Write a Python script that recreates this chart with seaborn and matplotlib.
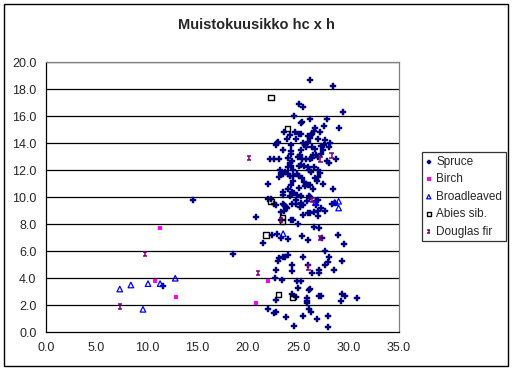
import numpy as np
import pandas as pd
import matplotlib
matplotlib.use('Agg')
import matplotlib.pyplot as plt
from matplotlib.path import Path
from matplotlib.patches import Rectangle
import seaborn as sns

sns.set_style('white')
plt.rcParams['font.family'] = ['Liberation Sans', 'DejaVu Sans']

# --- data ---
spruce_x = [26.2, 28.4, 29.4, 25.1, 25.5, 24.6, 26.2, 27.8, 25.3, 25.4, 27.6, 29.0, 26.7, 26.6, 26.4, 23.6,
            24.7, 25.1, 25.3, 26.0, 26.2, 26.3, 27.2, 24.2, 23.9, 24.8, 26.0, 27.0, 27.7, 28.1, 22.9, 23.0,
            22.8, 24.3, 25.5, 25.7, 25.8, 26.4, 26.7, 27.3, 27.6, 28.0, 24.3, 24.3, 23.5, 25.3, 27.5, 25.0,
            25.2, 26.5, 26.8, 27.0, 27.3, 24.0, 22.2, 22.6, 23.1, 24.4, 24.2, 25.4, 25.8, 26.2, 26.4, 27.8,
            28.7, 28.0, 24.0, 24.3, 24.5, 25.1, 25.3, 25.6, 26.0, 26.1, 26.3, 26.6, 27.0, 23.2, 23.3, 23.5,
            23.7, 24.0, 24.2, 24.5, 24.9, 25.1, 26.7, 27.0, 27.2, 23.1, 25.4, 24.5, 24.3, 22.0, 25.6, 25.8,
            26.0, 26.2, 25.7, 27.5, 26.9, 25.1, 24.0, 26.5, 28.4, 23.5, 23.5, 24.4, 24.6, 24.9, 25.3, 26.2,
            26.1, 24.2, 24.8, 22.3, 22.0, 25.9, 26.8, 27.0, 23.5, 23.6, 23.9, 23.8, 24.4, 24.8, 25.3, 25.5,
            25.2, 22.6, 22.8, 26.8, 27.3, 27.0, 28.3, 28.6, 23.3, 23.6, 25.5, 26.0, 26.2, 26.6, 27.0, 27.7,
            23.3, 24.3, 24.5, 25.0, 20.8, 22.4, 22.9, 23.3, 24.0, 25.4, 26.0, 26.6, 27.1, 27.4, 21.5, 28.9,
            29.5, 27.7, 23.1, 23.0, 23.5, 23.7, 24.0, 25.5, 28.0, 29.3, 27.7, 27.9, 26.0, 24.4, 22.8, 24.4,
            27.1, 27.1, 26.4, 28.5, 22.7, 23.4, 24.9, 25.3, 25.0, 26.1, 26.2, 24.4, 24.8, 25.9, 25.9, 25.9,
            27.1, 27.3, 29.3, 29.6, 29.2, 30.8, 22.8, 22.0, 22.6, 22.8, 23.8, 25.5, 26.1, 26.3, 26.9, 27.9,
            24.6, 27.9, 14.6, 18.5, 11.6]
spruce_y = [18.7, 18.2, 16.3, 16.9, 16.7, 16.0, 15.8, 15.8, 15.5, 15.6, 15.3, 15.1, 15.1, 14.9, 14.7, 14.8,
            14.8, 14.7, 14.7, 14.5, 14.4, 14.6, 14.8, 14.6, 14.3, 14.3, 14.1, 14.3, 14.2, 14.0, 14.0, 14.1,
            13.9, 13.9, 14.0, 13.9, 13.7, 13.7, 13.6, 13.8, 13.9, 13.7, 13.4, 13.2, 13.5, 13.5, 13.5, 13.0,
            13.1, 13.1, 13.1, 13.0, 13.2, 12.9, 12.8, 12.8, 12.8, 12.7, 12.5, 12.8, 12.8, 12.8, 12.9, 12.7,
            12.8, 12.5, 12.2, 12.3, 12.0, 12.3, 12.4, 12.3, 12.2, 12.0, 11.9, 12.2, 12.0, 12.0, 11.8, 11.7,
            11.9, 11.7, 11.6, 11.6, 11.7, 11.6, 11.4, 11.5, 11.8, 11.5, 11.4, 11.2, 10.9, 11.0, 11.1, 11.0,
            10.9, 10.9, 10.8, 11.0, 11.2, 10.7, 10.6, 10.6, 10.6, 10.4, 10.2, 10.4, 10.3, 10.2, 10.1, 10.0,
            10.1, 10.1, 9.8, 9.9, 9.9, 9.7, 9.7, 9.8, 9.5, 9.4, 9.2, 9.3, 9.5, 9.5, 9.6, 9.4,
            9.3, 9.5, 9.4, 9.4, 9.2, 9.0, 9.5, 9.6, 8.9, 9.0, 8.7, 8.8, 8.8, 8.9, 8.6, 9.0,
            8.3, 8.3, 8.3, 8.0, 8.5, 7.2, 7.3, 7.0, 6.9, 7.1, 6.8, 7.8, 7.7, 7.0, 6.6, 7.2,
            6.5, 6.0, 5.5, 5.3, 5.6, 5.6, 5.7, 5.6, 5.6, 5.3, 5.0, 5.2, 5.0, 5.0, 4.6, 4.5,
            4.6, 4.4, 4.4, 4.6, 4.0, 3.9, 3.8, 3.8, 3.3, 3.1, 3.2, 2.8, 2.6, 2.5, 2.3, 2.2,
            2.7, 2.7, 2.8, 2.7, 2.3, 2.5, 2.4, 1.7, 1.4, 1.5, 1.1, 1.2, 1.7, 1.5, 1.0, 1.2,
            0.5, 0.4, 9.8, 5.8, 3.4]

birch_x = [11.3, 10.8, 12.9, 22.0, 20.8]
birch_y = [7.7, 3.8, 2.6, 3.8, 2.2]

broad_x = [7.3, 8.4, 10.1, 11.3, 12.8, 9.6, 23.5, 26.7, 28.6, 29.0, 29.0]
broad_y = [3.2, 3.5, 3.6, 3.6, 4.0, 1.7, 7.3, 9.6, 9.6, 9.7, 9.2]

abies_x = [22.3, 23.9, 22.3, 23.4, 23.4, 21.8, 23.0, 24.4]
abies_y = [17.4, 15.1, 9.7, 8.5, 8.2, 7.2, 2.8, 2.6]

douglas_x = [20.1, 28.3, 27.2, 26.4, 23.3, 27.2, 26.0, 21.0, 9.8, 7.3]
douglas_y = [12.9, 13.1, 12.8, 9.8, 8.3, 7.0, 4.8, 4.4, 5.8, 1.9]

x_ticks = np.arange(0, 35.1, 5)
y_ticks = np.arange(0, 20.1, 2)

# I-beam marker like the Excel one
ibeam = Path([(-1, 1), (1, 1), (0, 1), (0, -1), (-1, -1), (1, -1)],
             [Path.MOVETO, Path.LINETO, Path.MOVETO, Path.LINETO, Path.MOVETO, Path.LINETO])

fig = plt.figure(figsize=(5.13, 3.70), dpi=100)
ax = fig.add_axes([0.090, 0.102, 0.688, 0.730])

groups = [
    ('Spruce', spruce_x, spruce_y, dict(marker='P', s=20, color='#000080', edgecolor='#000080', linewidth=0.3)),
    ('Birch', birch_x, birch_y, dict(marker='s', s=12, color='#FF00FF', edgecolor='#FF00FF', linewidth=0)),
    ('Broadleaved', broad_x, broad_y, dict(marker='^', s=16, facecolor='none', edgecolor='#0000FF', linewidth=0.9)),
    ('Abies sib.', abies_x, abies_y, dict(marker='s', s=14, facecolor='none', edgecolor='black', linewidth=1.0)),
    ('Douglas fir', douglas_x, douglas_y, dict(marker=ibeam, s=10, facecolor='none', edgecolor='#800080', linewidth=1.1)),
]

for name, xs, ys, kw in groups:
    df = pd.DataFrame({'h': xs, 'hc': ys})
    sns.scatterplot(data=df, x='h', y='hc', ax=ax, label=name, zorder=3, **kw)

ax.set_xlim(0, 35)
ax.set_ylim(0, 20)
ax.set_xticks(x_ticks)
ax.set_yticks(y_ticks)
ax.set_xticklabels([f'{v:.1f}' for v in x_ticks], fontsize=9)
ax.set_yticklabels([f'{v:.1f}' for v in y_ticks], fontsize=9)
ax.set_xlabel('')
ax.set_ylabel('')
ax.tick_params(axis='both', direction='out', length=4, width=0.8, color='black', pad=3)

for v in y_ticks[1:]:
    ax.axhline(v, color='black', linewidth=0.9, zorder=1)

for side in ['left', 'bottom']:
    ax.spines[side].set_color('black')
    ax.spines[side].set_linewidth(0.9)
for side in ['top', 'right']:
    ax.spines[side].set_color('#808080')
    ax.spines[side].set_linewidth(0.9)

fig.text(0.5, 0.932, 'Muistokuusikko hc x h', ha='center', va='center',
         fontsize=10.5, fontweight='bold')

leg = ax.legend(loc='center left', bbox_to_anchor=(0.822, 0.468), bbox_transform=fig.transFigure,
                frameon=True, fancybox=False, fontsize=8.5, handlelength=0.6, handletextpad=0.35,
                labelspacing=0.47, borderpad=0.3, markerscale=0.75, borderaxespad=0)
leg.get_frame().set_edgecolor('black')
leg.get_frame().set_linewidth(0.9)

fig.patches.append(Rectangle((0.0084, 0.011), 0.982, 0.978, transform=fig.transFigure,
                             fill=False, edgecolor='black', linewidth=1.0))

fig.savefig('out.png', dpi=100, facecolor='white')
